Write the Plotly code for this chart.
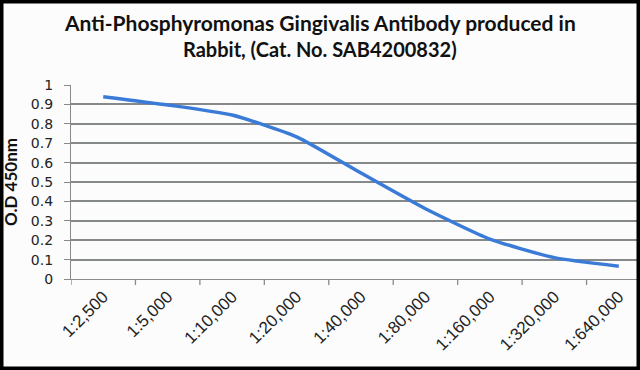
import plotly.graph_objects as go

dilutions = ["1:2,500", "1:5,000", "1:10,000", "1:20,000", "1:40,000",
             "1:80,000", "1:160,000", "1:320,000", "1:640,000"]
od450 = [0.94, 0.897, 0.845, 0.733, 0.546, 0.362, 0.206, 0.11, 0.066]
y_ticks = [0, 0.1, 0.2, 0.3, 0.4, 0.5, 0.6, 0.7, 0.8, 0.9, 1]
y_ticktext = ["0", "0.1", "0.2", "0.3", "0.4", "0.5", "0.6", "0.7", "0.8", "0.9", "1"]
title_lines = ["Anti-Phosphyromonas Gingivalis Antibody produced in",
               "Rabbit, (Cat. No. SAB4200832)"]

W, H = 640, 370
ML, MR, MT, MB = 71, 3, 85, 91
PW, PH = W - ML - MR, H - MT - MB

fig = go.Figure()
fig.add_trace(go.Scatter(
    x=list(range(len(dilutions))), y=od450, mode="lines",
    line=dict(color="#3b7bd8", width=3.5, shape="spline", smoothing=0.55),
    hoverinfo="skip", showlegend=False,
))

fig.update_layout(
    width=W, height=H,
    margin=dict(l=ML, r=MR, t=MT, b=MB, pad=0),
    paper_bgcolor="#fcfcfc", plot_bgcolor="#fcfcfc",
    xaxis=dict(
        range=[-0.5, -0.5 + 9 * PW / 580.0],
        tickmode="array", tickvals=list(range(len(dilutions))), ticktext=dilutions,
        tickangle=-45, showgrid=False, zeroline=False,
        showline=True, linecolor="#8a8a8a", linewidth=1.3,
        ticks="", tickfont=dict(family="Liberation Sans", size=17, color="#222222"),
    ),
    yaxis=dict(
        range=[0, 1], tickmode="array", tickvals=y_ticks, ticktext=y_ticktext,
        showgrid=True, gridcolor="#858989", gridwidth=1.5,
        zeroline=False, showline=True, linecolor="#8a8a8a", linewidth=1.3,
        ticks="outside", ticklen=6, tickcolor="#8a8a8a", tickwidth=1.3,
        ticklabelstandoff=8,
        tickfont=dict(family="DejaVu Sans", size=14, color="#222222"),
        title=dict(text="<b>O.D 450nm</b>", standoff=10,
                   font=dict(family="Lato", size=17, color="#111111")),
    ),
)

# title as two centred lines
for line, yc, sz in zip(title_lines, [22, 49], [21, 20]):
    fig.add_annotation(text="<b>" + line + "</b>", xref="paper", yref="paper",
                       x=(W / 2 - ML) / PW, y=(H - MB - yc) / PH,
                       xanchor="center", yanchor="middle", showarrow=False,
                       font=dict(family="Lato", size=sz, color="#111111"))

# x tick marks between categories (category boundaries)
for i in range(len(dilutions) + 1):
    fig.add_shape(type="line", xref="x", yref="paper",
                  x0=i - 0.5, x1=i - 0.5, y0=0, y1=-6 / PH,
                  line=dict(color="#8a8a8a", width=1.3))

# black frame around the whole picture
fig.add_shape(type="rect", xref="paper", yref="paper",
              x0=-ML / PW, x1=(PW + MR) / PW, y0=-MB / PH, y1=(PH + MT) / PH,
              line=dict(color="#000000", width=7), fillcolor="rgba(0,0,0,0)",
              layer="above")

fig.write_html("out.html", config={"displayModeBar": False},
               post_script="document.body.style.margin='0';document.body.style.overflow='hidden';")
